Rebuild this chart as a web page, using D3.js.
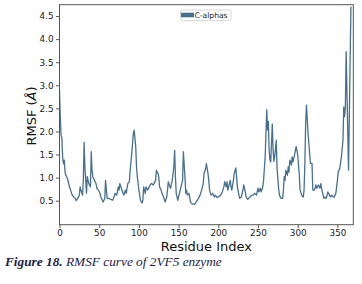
<!DOCTYPE html>
<html>
<head>
<meta charset="utf-8">
<script src="https://cdn.jsdelivr.net/npm/d3@7/dist/d3.min.js"></script>
<style>
  html, body { margin: 0; padding: 0; background: #fff; }
  svg { display: block; }
</style>
</head>
<body>
<svg id="chart" width="362" height="284"></svg>
<script>
// ---- data ----
const residues = [0,1,2,3,4,5,6,7,8,10,11,13,14,16,18,20,21,23,25,26,27,29,30,31,32,34,35,36,37,39,
  40,41,42,44,46,47,49,51,52,55,57,58,60,62,64,67,68,70,72,74,75,76,78,80,81,83,84,86,88,89,
  91,93,94,96,97,98,100,102,104,105,106,108,109,111,113,114,116,118,119,121,122,124,125,126,128,129,131,133,135,136,
  137,139,140,141,142,144,145,146,147,149,151,153,155,156,158,159,160,161,163,165,167,170,172,175,177,179,181,182,184,185,
  187,188,189,190,191,193,195,196,198,200,203,205,207,208,210,211,212,214,215,216,217,219,220,222,223,224,226,227,229,231,
  232,234,235,237,240,242,244,246,248,250,251,253,254,256,257,259,260,261,262,263,264,265,266,268,269,270,271,273,274,275,
  276,277,279,281,282,283,284,285,287,288,289,290,292,293,294,296,298,299,300,302,303,305,307,308,309,310,311,313,314,316,
  318,319,321,323,324,326,328,329,331,333,334,336,338,340,341,343,345,346,348,350,351,353,355,357,358,359,360,361,364,367];
const rmsf = [2.90,2.30,1.92,1.86,1.42,1.30,1.38,1.12,1.05,0.98,0.91,0.77,0.73,0.62,0.58,0.55,0.50,0.55,0.62,0.80,0.73,0.62,0.94,1.76,1.23,0.66,1.02,0.94,0.87,0.80,
  1.56,1.16,1.02,0.94,0.87,0.77,0.73,0.66,0.58,0.47,0.55,0.94,0.55,0.55,0.53,0.51,0.55,0.66,0.62,0.80,0.73,0.87,0.77,0.66,0.62,0.73,0.66,0.87,0.91,1.16,
  1.52,1.96,2.03,1.67,1.23,1.02,0.73,0.51,0.45,0.51,0.80,0.66,0.80,0.73,0.80,0.84,0.87,0.84,0.87,0.94,1.16,1.09,1.02,0.80,0.73,0.66,0.58,0.47,0.58,0.73,
  0.91,0.80,0.77,0.87,0.94,1.23,1.59,1.02,0.66,0.51,0.66,0.80,0.94,1.56,1.02,0.66,0.73,0.62,0.66,0.47,0.43,0.42,0.47,0.55,0.62,0.73,0.87,1.09,1.19,1.30,
  1.09,0.94,0.73,0.66,0.62,0.66,0.58,0.62,0.58,0.58,0.62,0.69,0.80,0.91,0.80,0.91,0.73,0.87,0.94,0.80,0.73,0.94,1.09,1.21,1.02,0.80,0.62,0.55,0.58,0.73,
  0.84,0.69,0.58,0.53,0.58,0.62,0.62,0.66,0.62,0.77,0.69,0.77,0.69,0.80,0.94,1.45,1.96,2.47,2.03,2.22,1.60,1.38,1.34,2.16,1.60,1.35,1.45,1.81,1.20,0.98,
  0.75,0.62,0.55,0.55,0.73,1.02,0.94,1.16,1.05,1.23,1.12,1.38,1.27,1.45,1.34,1.49,1.67,1.59,1.49,1.05,0.73,0.62,0.58,0.73,1.31,2.17,2.57,1.96,1.74,1.31,
  1.31,0.73,0.73,0.84,0.77,0.84,0.77,0.87,0.69,0.55,0.58,0.55,0.69,0.62,0.58,0.62,0.58,0.58,0.66,0.94,1.12,1.20,1.45,1.81,2.53,2.32,2.53,3.73,1.16,4.70];
const yTicks = [0.5,1.0,1.5,2.0,2.5,3.0,3.5,4.0,4.5];
const xTicks = [0,50,100,150,200,250,300,350];
const seriesName = "C-alphas";
const xLabel = "Residue Index";
const captionBold = "Figure 18.";
const captionRest = " RMSF curve of 2VF5 enzyme";

// ---- layout ----
const L = 59.5, R = 353.3, T = 4.7, B = 224.7;
const color = "#46708f";
const svg = d3.select("#chart");

const x = d3.scaleLinear().domain([0, 370]).range([L, R]);
const y = d3.scaleLinear().domain([-0.02, 4.745]).range([B, T]);

const n = Math.min(residues.length, rmsf.length);
const pts = d3.range(n).map(i => [residues[i], rmsf[i]]);

svg.append("defs").append("clipPath").attr("id", "clip")
  .append("rect").attr("x", L).attr("y", T).attr("width", R - L).attr("height", B - T);

svg.append("path")
  .datum(pts)
  .attr("clip-path", "url(#clip)")
  .attr("fill", "none")
  .attr("stroke", color)
  .attr("stroke-width", 1.3)
  .attr("stroke-linejoin", "round")
  .attr("d", d3.line().x(d => x(d[0])).y(d => y(d[1])));

// axes
const fontTick = "DejaVu Sans, sans-serif";
const gx = svg.append("g").attr("transform", `translate(0,${B})`)
  .call(d3.axisBottom(x).tickValues(xTicks).tickFormat(d3.format("d")).tickSize(3.5).tickPadding(2));
const gy = svg.append("g").attr("transform", `translate(${L},0)`)
  .call(d3.axisLeft(y).tickValues(yTicks).tickFormat(d3.format(".1f")).tickSize(3.5).tickPadding(2.5));
[gx, gy].forEach(g => {
  g.select(".domain").remove();
  g.selectAll("line").attr("stroke", "#333").attr("stroke-width", 0.8);
  g.selectAll("text").attr("fill", "#222").style("font-family", fontTick).style("font-size", "8.8px");
});

// frame
svg.append("rect").attr("x", L).attr("y", T).attr("width", R - L).attr("height", B - T)
  .attr("fill", "none").attr("stroke", "#555").attr("stroke-width", 1);

// axis labels
svg.append("text").attr("x", (L + R) / 2).attr("y", 250.5).attr("text-anchor", "middle")
  .style("font-family", fontTick).style("font-size", "13px").attr("fill", "#111").text(xLabel);

const yl = svg.append("text").attr("transform", `translate(36,${116}) rotate(-90)`)
  .attr("text-anchor", "middle").style("font-family", fontTick).style("font-size", "13px").attr("fill", "#111");
yl.append("tspan").text("RMSF (");
yl.append("tspan").style("font-style", "italic").text("Å");
yl.append("tspan").text(")");

// legend
const lg = svg.append("g");
lg.append("rect").attr("x", 180.5).attr("y", 10).attr("width", 50.5).attr("height", 10.7)
  .attr("rx", 2).attr("fill", "#fff").attr("fill-opacity", 0.8).attr("stroke", "#ccc").attr("stroke-width", 0.8);
lg.append("rect").attr("x", 181).attr("y", 12.7).attr("width", 13).attr("height", 4.6).attr("fill", color);
lg.append("text").attr("x", 194.5).attr("y", 18.2)
  .style("font-family", fontTick).style("font-size", "7.6px").attr("fill", "#222").text(seriesName);

// caption
const cap = svg.append("text").attr("x", 5).attr("y", 266)
  .style("font-family", "Liberation Serif, Times New Roman, serif").style("font-size", "13.3px")
  .style("font-style", "italic").attr("fill", "#1c1c48");
cap.append("tspan").style("font-weight", "bold").text(captionBold);
cap.append("tspan").text(captionRest);
</script>
</body>
</html>
